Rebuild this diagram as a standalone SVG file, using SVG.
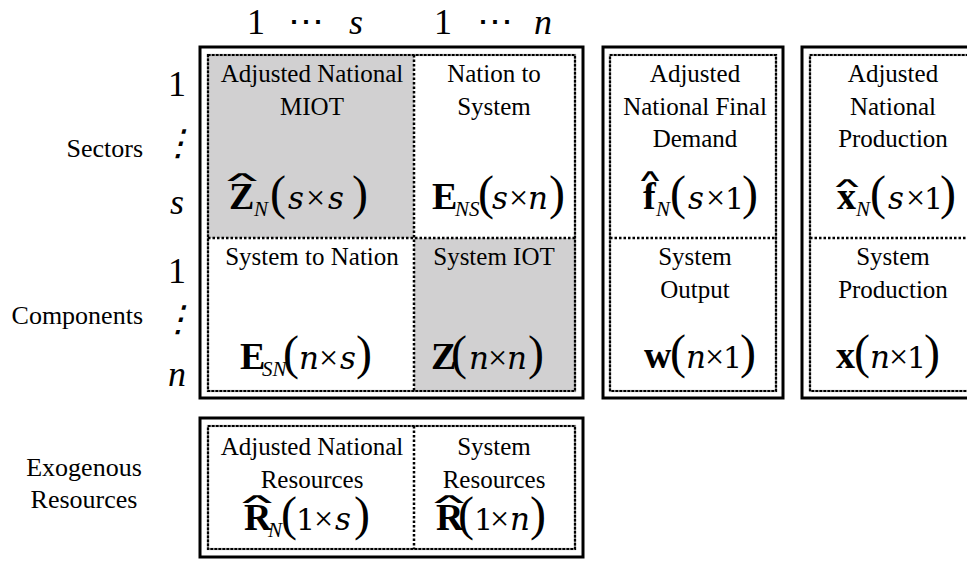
<svg xmlns="http://www.w3.org/2000/svg" width="967" height="561" viewBox="0 0 967 561">
  <style>
    .frame { fill: none; stroke: #000; stroke-width: 3; }
    .inner-base { fill: none; stroke: #8a8a8a; stroke-width: 2.2; }
    .inner-dash { fill: none; stroke: #000; stroke-width: 2.2; stroke-dasharray: 2.5 1.5; }
    .divider { stroke: #000; stroke-width: 2.5; stroke-dasharray: 2.5 2; fill: none; }
    .shade { fill: #d1d0d1; }
    .lbl { font-family: "Liberation Serif", "Times New Roman", serif; font-size: 25px; fill: #000; text-anchor: middle; }
    .side { font-family: "Liberation Serif", "Times New Roman", serif; font-size: 26px; fill: #000; }
    .idx { font-family: "Liberation Serif", "Times New Roman", serif; font-size: 36px; fill: #000; text-anchor: middle; }
    .it { font-style: italic; }
    .math { font-family: "Liberation Serif", "Times New Roman", serif; font-size: 38px; fill: #000; }
    .B { font-weight: bold; }
    .sub { font-size: 21px; font-style: italic; }
    .p { font-size: 48px; }
    .v { font-family: "DejaVu Serif", serif; font-style: italic; font-size: 31px; }
    .x { font-size: 34px; }
    .one { font-family: "DejaVu Serif", serif; font-size: 30px; }
    /* wide hat accent: a flattened wedge placed over the letter */
    .hat { font-family: "DejaVu Sans", sans-serif; font-size: 24px; fill: #000; text-anchor: middle; }
  </style>

  <!-- column indices -->
  <g id="col-index">
    <text class="idx" x="256" y="34">1</text>
    <text class="idx" x="306" y="34">⋯</text>
    <text class="idx it" x="356" y="34">s</text>
    <text class="idx" x="443" y="34">1</text>
    <text class="idx" x="495" y="34">⋯</text>
    <text class="idx it" x="543" y="34">n</text>
  </g>

  <!-- row indices and row group names -->
  <g id="row-index">
    <text class="idx" x="177" y="96">1</text>
    <text class="idx it" x="178" y="155">⋮</text>
    <text class="idx it" x="177" y="214">s</text>
    <text class="idx" x="177" y="283">1</text>
    <text class="idx it" x="178" y="331">⋮</text>
    <text class="idx it" x="177" y="386">n</text>
  </g>
  <g id="row-labels">
    <text class="side" x="143" y="157" text-anchor="end">Sectors</text>
    <text class="side" x="143" y="324" text-anchor="end">Components</text>
    <text class="side" x="84" y="476" text-anchor="middle">Exogenous</text>
    <text class="side" x="84" y="508" text-anchor="middle">Resources</text>
  </g>

  <!-- main block: national / system transactions -->
  <g id="transactions">
    <rect class="shade" x="208" y="55" width="206" height="183"/>
    <rect class="shade" x="414" y="238" width="161" height="153"/>
    <rect class="frame" x="200" y="47" width="383" height="351"/>
    <rect class="inner-base" x="208" y="55" width="367" height="336"/>
    <rect class="inner-dash" x="208" y="55" width="367" height="336"/>
    <line class="divider" x1="414" y1="55" x2="414" y2="391"/>
    <line class="divider" x1="208" y1="238" x2="575" y2="238"/>
  </g>

  <g id="cell-miot">
    <text class="lbl" x="312" y="82">Adjusted National</text>
    <text class="lbl" x="312" y="115">MIOT</text>
    <text class="hat" transform="translate(242 181) scale(2.6 0.55)">∧</text>
    <text class="math" y="209"><tspan class="B" x="229">Z</tspan><tspan class="sub" x="254" y="216">N</tspan><tspan class="p" x="270" y="209">(</tspan><tspan class="v" x="288">s</tspan><tspan class="x" x="306">×</tspan><tspan class="v" x="328">s</tspan><tspan class="p" x="352">)</tspan></text>
  </g>
  <g id="cell-nation-system">
    <text class="lbl" x="494" y="82">Nation to</text>
    <text class="lbl" x="494" y="115">System</text>
    <text class="math" y="209"><tspan class="B" x="432">E</tspan><tspan class="sub" x="455" y="216">NS</tspan><tspan class="p" x="478" y="209">(</tspan><tspan class="v" x="492">s</tspan><tspan class="x" x="509">×</tspan><tspan class="v" x="528">n</tspan><tspan class="p" x="549">)</tspan></text>
  </g>
  <g id="cell-system-nation">
    <text class="lbl" x="312" y="265">System to Nation</text>
    <text class="math" y="369"><tspan class="B" x="240">E</tspan><tspan class="sub" x="262" y="376">SN</tspan><tspan class="p" x="283" y="369">(</tspan><tspan class="v" x="299">n</tspan><tspan class="x" x="319">×</tspan><tspan class="v" x="340">s</tspan><tspan class="p" x="356">)</tspan></text>
  </g>
  <g id="cell-system-iot">
    <text class="lbl" x="494" y="265">System IOT</text>
    <text class="math" y="369"><tspan class="B" x="431">Z</tspan><tspan class="p" x="451">(</tspan><tspan class="v" x="469">n</tspan><tspan class="x" x="488">×</tspan><tspan class="v" x="507">n</tspan><tspan class="p" x="528">)</tspan></text>
  </g>

  <!-- final demand / output block -->
  <g id="demand">
    <rect class="frame" x="603" y="47" width="180" height="351"/>
    <rect class="inner-base" x="610" y="55" width="166" height="336"/>
    <rect class="inner-dash" x="610" y="55" width="166" height="336"/>
    <line class="divider" x1="610" y1="238" x2="776" y2="238"/>
    <text class="lbl" x="695" y="82">Adjusted</text>
    <text class="lbl" x="695" y="115">National Final</text>
    <text class="lbl" x="695" y="147">Demand</text>
    <text class="hat" transform="translate(650 181) scale(1.6 0.7)">∧</text>
    <text class="math" y="209"><tspan class="B" x="643">f</tspan><tspan class="sub" x="656" y="216">N</tspan><tspan class="p" x="670" y="209">(</tspan><tspan class="v" x="688">s</tspan><tspan class="x" x="706">×</tspan><tspan class="one" x="725">1</tspan><tspan class="p" x="742">)</tspan></text>
    <text class="lbl" x="695" y="265">System</text>
    <text class="lbl" x="695" y="298">Output</text>
    <text class="math" y="368"><tspan class="B" x="644">w</tspan><tspan class="p" x="670">(</tspan><tspan class="v" x="686">n</tspan><tspan class="x" x="705">×</tspan><tspan class="one" x="723">1</tspan><tspan class="p" x="740">)</tspan></text>
  </g>

  <!-- production block -->
  <g id="production">
    <rect class="frame" x="802" y="47" width="180" height="351"/>
    <rect class="inner-base" x="810" y="55" width="166" height="336"/>
    <rect class="inner-dash" x="810" y="55" width="166" height="336"/>
    <line class="divider" x1="810" y1="238" x2="976" y2="238"/>
    <text class="lbl" x="893" y="82">Adjusted</text>
    <text class="lbl" x="893" y="115">National</text>
    <text class="lbl" x="893" y="147">Production</text>
    <text class="hat" transform="translate(847 187) scale(2 0.55)">∧</text>
    <text class="math" y="209"><tspan class="B" x="837">x</tspan><tspan class="sub" x="856" y="216">N</tspan><tspan class="p" x="870" y="209">(</tspan><tspan class="v" x="888">s</tspan><tspan class="x" x="906">×</tspan><tspan class="one" x="924">1</tspan><tspan class="p" x="940">)</tspan></text>
    <text class="lbl" x="893" y="265">System</text>
    <text class="lbl" x="893" y="298">Production</text>
    <text class="math" y="368"><tspan class="B" x="836">x</tspan><tspan class="p" x="854">(</tspan><tspan class="v" x="870">n</tspan><tspan class="x" x="889">×</tspan><tspan class="one" x="907">1</tspan><tspan class="p" x="924">)</tspan></text>
  </g>

  <!-- exogenous resources block -->
  <g id="resources">
    <rect class="frame" x="200" y="418" width="383" height="139"/>
    <rect class="inner-base" x="208" y="426" width="367" height="123"/>
    <rect class="inner-dash" x="208" y="426" width="367" height="123"/>
    <line class="divider" x1="414" y1="426" x2="414" y2="549"/>
    <text class="lbl" x="312" y="455">Adjusted National</text>
    <text class="lbl" x="312" y="488">Resources</text>
    <text class="hat" transform="translate(257 503) scale(2.6 0.55)">∧</text>
    <text class="math" y="530"><tspan class="B" x="244">R</tspan><tspan class="sub" x="268" y="537">N</tspan><tspan class="p" x="281" y="530">(</tspan><tspan class="one" x="296">1</tspan><tspan class="x" x="314">×</tspan><tspan class="v" x="335">s</tspan><tspan class="p" x="354">)</tspan></text>
    <text class="lbl" x="494" y="455">System</text>
    <text class="lbl" x="494" y="488">Resources</text>
    <text class="hat" transform="translate(449 503) scale(2.6 0.55)">∧</text>
    <text class="math" y="530"><tspan class="B" x="436">R</tspan><tspan class="p" x="458">(</tspan><tspan class="one" x="474">1</tspan><tspan class="x" x="490">×</tspan><tspan class="v" x="510">n</tspan><tspan class="p" x="530">)</tspan></text>
  </g>
</svg>
